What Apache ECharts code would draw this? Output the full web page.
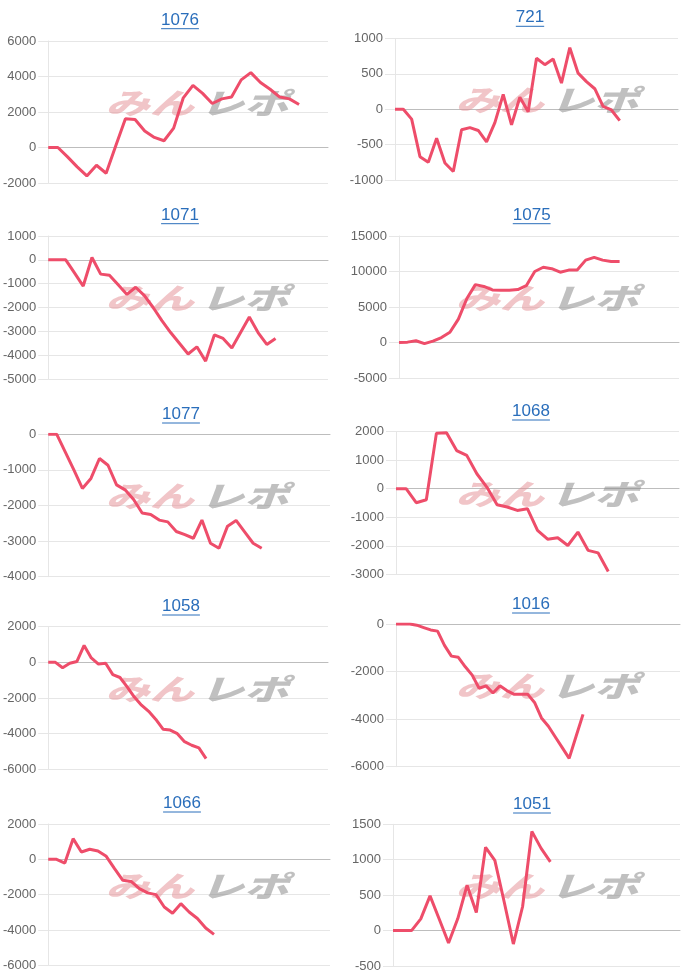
<!DOCTYPE html>
<html><head><meta charset="utf-8">
<script src="https://cdn.jsdelivr.net/npm/echarts@6/dist/echarts.min.js"></script>
<style>html,body{margin:0;padding:0;background:#fff}#c{width:700px;height:979px}</style>
</head><body><div id="c"></div>
<script>
// ---- data ----
const titles = ['1076','721','1071','1075','1077','1068','1058','1016','1066','1051'];
const catCounts = [30,35,33,34,34,29,40,42,35,32];
const v1076 = [0,0,-530,-1090,-1600,-1000,-1450,100,1620,1580,930,570,380,1090,2800,3500,3050,2480,2740,2840,3810,4220,3660,3280,2840,2740,2420];
const v721  = [0,0,-140,-670,-750,-410,-760,-880,-290,-260,-300,-460,-190,210,-220,170,-35,720,630,710,370,870,510,390,290,40,-10,-160];
const v1071 = [0,0,0,-550,-1100,100,-600,-650,-1050,-1450,-1150,-1500,-2000,-2550,-3050,-3500,-3950,-3650,-4250,-3150,-3300,-3700,-3050,-2400,-3050,-3550,-3300];
const v1075 = [0,50,250,-150,200,700,1450,3300,6200,8150,7900,7400,7350,7350,7450,8000,10000,10600,10400,9900,10200,10200,11600,12000,11600,11400,11400];
const v1077 = [0,0,-500,-1000,-1520,-1240,-680,-870,-1420,-1560,-1830,-2210,-2250,-2410,-2460,-2730,-2820,-2920,-2410,-3060,-3200,-2580,-2420,-2740,-3060,-3200];
const v1068 = [0,0,-490,-385,1950,1960,1340,1170,525,50,-560,-640,-760,-700,-1460,-1770,-1720,-1990,-1520,-2160,-2250,-2900];
const v1058 = [0,0,-300,-50,50,950,250,-100,-50,-690,-850,-1380,-1950,-2400,-2750,-3200,-3750,-3800,-4000,-4450,-4650,-4800,-5400];
const v1016 = [0,0,0,-50,-150,-250,-300,-900,-1350,-1400,-1800,-2150,-2700,-2600,-2900,-2600,-2800,-2950,-2950,-2950,-3300,-3950,-4300,-4750,-5200,-5650,-4720,-3800];
const v1066 = [0,0,-210,1170,415,570,470,170,-530,-1190,-1250,-1660,-1900,-2000,-2700,-3050,-2510,-2980,-3350,-3890,-4250];
const v1051 = [0,0,0,165,490,160,-175,170,640,255,1175,990,410,-190,340,1400,1160,970];
const seriesValues = [v1076,v721,v1071,v1075,v1077,v1068,v1058,v1016,v1066,v1051];
const yMin = [-2000,-1000,-5000,-5000,-4000,-3000,-6000,-6000,-6000,-500];
const yMax = [6000,1000,1000,15000,0,2000,2000,0,2000,1500];
const yStep = [2000,500,1000,5000,1000,1000,2000,2000,2000,500];

// ---- layout ----
const grids = [
  [45,41,328,142],[395,38.5,678,141.5],
  [45,236,328,143],[399,236,679,142],
  [46,434.3,330,142.4],[396,431.7,679,142.6],
  [46,626.7,328,142.6],[396,624,680,142.7],
  [48,824,330,141.3],[393,824.3,680,141.7]
];
const titlePos = [[180,20.7],[530,18.3],[180,215.7],[531.7,215.7],[181,415],[531,412],[181,607],[531,605],[182,804],[532,805]];

const LINE = '#ee4d6a', GRIDC = '#e6e6e6', ZEROC = '#bdbdbd', TITLEC = '#2a6ebb';
const TFONT = 17, TFAMILY = '"Liberation Sans", Arial, sans-serif';

const ctx = document.createElement('canvas').getContext('2d');
ctx.font = TFONT + 'px ' + TFAMILY;

const option = {animation:false, backgroundColor:'#fff', grid:[], xAxis:[], yAxis:[], series:[], title:[], graphic:[]};
titles.forEach((t,i)=>{
  const g = grids[i];
  option.grid.push({left:g[0], top:g[1], width:g[2]-g[0], height:g[3]});
  const cats = []; for(let k=1;k<=catCounts[i];k++) cats.push(String(k));
  option.xAxis.push({type:'category', gridIndex:i, data:cats, boundaryGap:false,
    axisLabel:{show:false}, axisTick:{show:false}, splitLine:{show:false},
    axisLine:{show:true, onZero:true, lineStyle:{color:ZEROC, width:1}}});
  option.yAxis.push({type:'value', gridIndex:i, min:yMin[i], max:yMax[i], interval:yStep[i],
    axisLabel:{color:'#666', fontSize:13, margin:12, fontFamily:TFAMILY, formatter:(v)=>String(v)},
    axisTick:{show:true, length:10, lineStyle:{color:GRIDC}},
    axisLine:{show:true, lineStyle:{color:GRIDC}},
    splitLine:{lineStyle:{color:GRIDC}}});
  option.series.push({type:'line', xAxisIndex:i, yAxisIndex:i, data:seriesValues[i], showSymbol:false, symbol:'none',
    lineStyle:{color:LINE, width:3}, itemStyle:{color:LINE}, z:5});
  const tp = titlePos[i];
  option.title.push({text:t, left:tp[0], top:tp[1]-9, textAlign:'center', padding:0,
    textStyle:{color:TITLEC, fontSize:TFONT, fontWeight:'normal', fontFamily:TFAMILY}});
  const w = ctx.measureText(t).width;
  option.graphic.push({type:'line', shape:{x1:tp[0]-w/2, y1:tp[1]+8, x2:tp[0]+w/2, y2:tp[1]+8}, style:{stroke:TITLEC, lineWidth:1}});
  // watermark
  const cx = (i%2===0) ? 197 : 547, cy = g[1] + 62;
  option.graphic.push({type:'text', x:cx-3, y:cy, z:1, silent:true, scaleX:1.3, scaleY:0.85,
    style:{text:'みん', fill:'rgba(228,140,145,0.5)', font:'italic 900 34px "Noto Sans CJK JP"', textAlign:'right', textVerticalAlign:'middle'}});
  option.graphic.push({type:'text', x:cx+3, y:cy, z:1, silent:true, scaleX:1.3, scaleY:0.85,
    style:{text:'レポ', fill:'rgba(140,140,140,0.55)', font:'italic 900 34px "Noto Sans CJK JP"', textAlign:'left', textVerticalAlign:'middle'}});
});
const chart = echarts.init(document.getElementById('c'), null, {renderer:'canvas'});
chart.setOption(option);
</script></body></html>
